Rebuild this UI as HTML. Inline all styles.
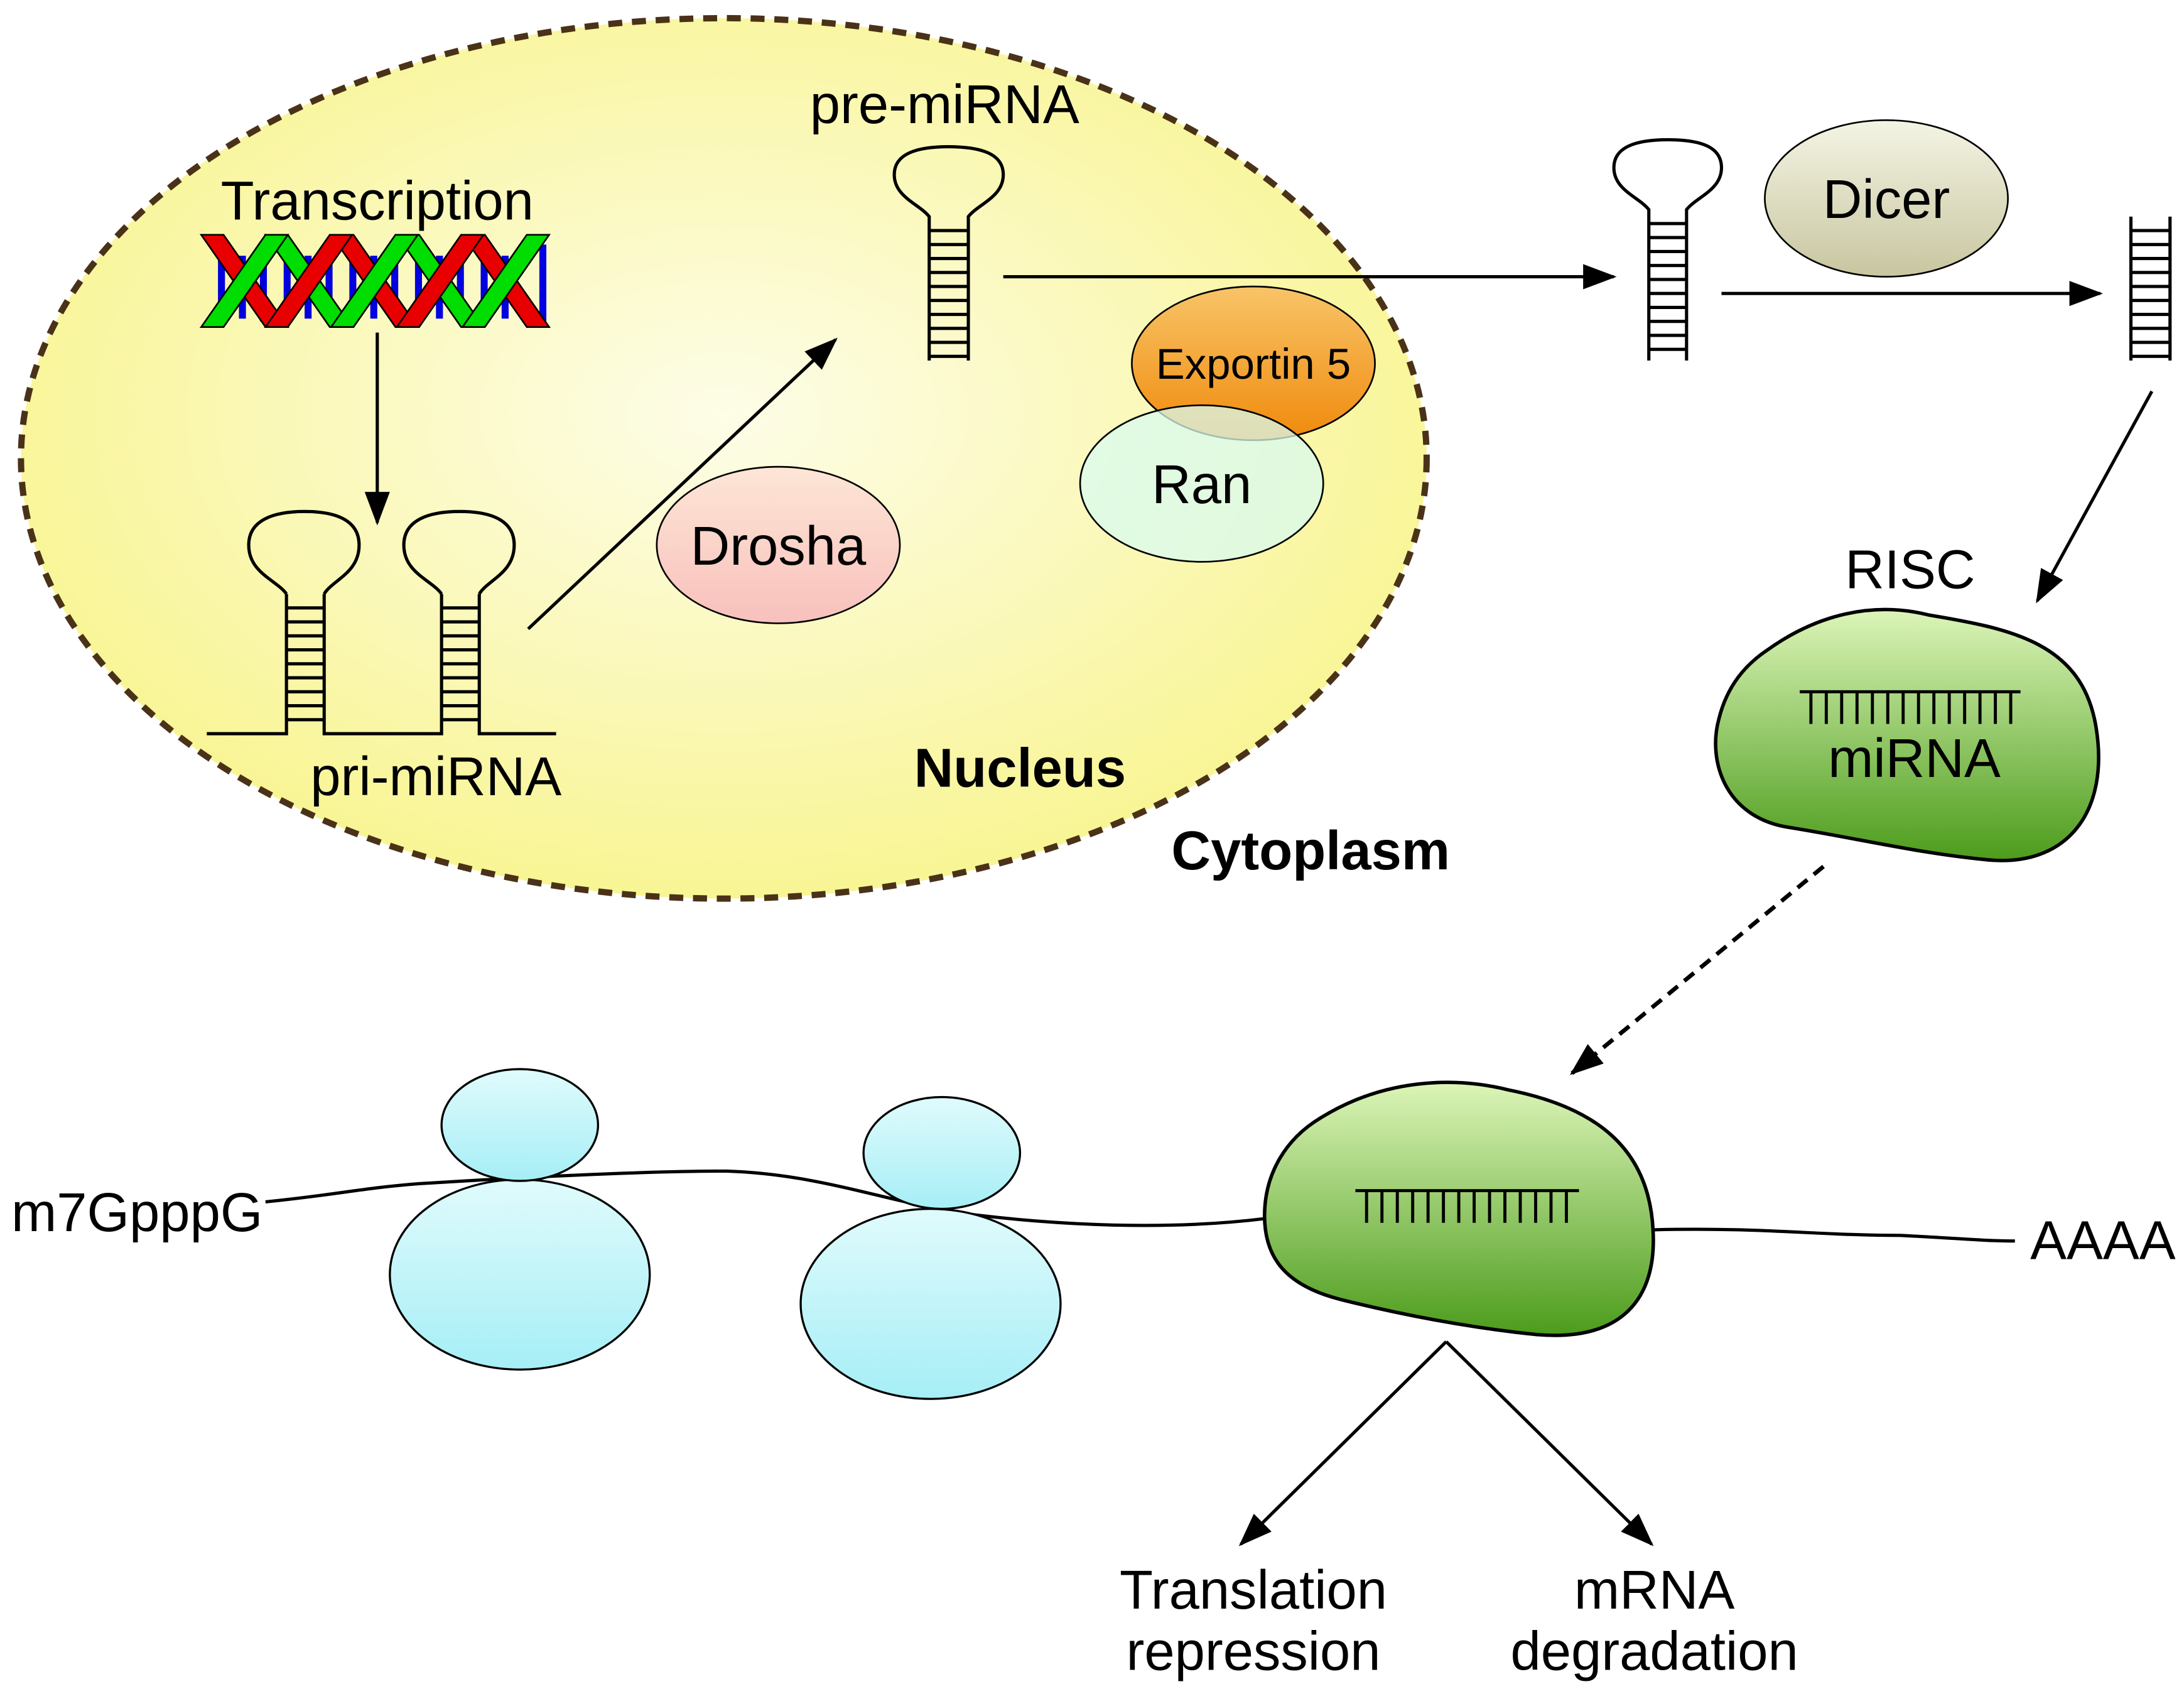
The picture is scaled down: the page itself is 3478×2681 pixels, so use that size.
<!DOCTYPE html>
<html><head><meta charset="utf-8"><style>
html,body{margin:0;padding:0;background:#fff}
svg{display:block}
text{font-family:"Liberation Sans",sans-serif}
</style></head><body>
<svg width="3478" height="2681" viewBox="0 0 1563 1205" preserveAspectRatio="none" xmlns="http://www.w3.org/2000/svg">
<defs>
<radialGradient id="nuc" cx="50%" cy="45%" r="60%"><stop offset="0" stop-color="#fdfde8"/><stop offset="1" stop-color="#f8f48c"/></radialGradient>
<linearGradient id="pink" x1="0" y1="0" x2="0" y2="1"><stop offset="0" stop-color="#fde6d6"/><stop offset="1" stop-color="#f8c0bc"/></linearGradient>
<linearGradient id="orange" x1="0" y1="0" x2="0" y2="1"><stop offset="0" stop-color="#f8c468"/><stop offset="1" stop-color="#f08a0c"/></linearGradient>
<linearGradient id="dicer" x1="0" y1="0" x2="0" y2="1"><stop offset="0" stop-color="#f4f4e4"/><stop offset="1" stop-color="#c8c6a0"/></linearGradient>
<linearGradient id="cyan" x1="0" y1="0" x2="0" y2="1"><stop offset="0" stop-color="#e0fbfc"/><stop offset="1" stop-color="#a6eef6"/></linearGradient>
<linearGradient id="green" x1="0" y1="0" x2="0" y2="1"><stop offset="0" stop-color="#dcf5b8"/><stop offset="1" stop-color="#4c9c1c"/></linearGradient>
<marker id="ah2" markerWidth="24" markerHeight="18" refX="22" refY="9" orient="auto" markerUnits="userSpaceOnUse"><path d="M0,0 L24,9 L0,18 z" fill="#000"/></marker>
</defs>

<ellipse cx="518" cy="328" rx="503" ry="315" fill="url(#nuc)" stroke="#4a3218" stroke-width="4.5" stroke-dasharray="10,7"/>

<text x="270" y="157" font-size="39" text-anchor="middle">Transcription</text>
<g stroke="#000" stroke-width="1.2">
<g fill="#0000e0" stroke="none">
<rect x="156" y="183" width="5" height="45"/><rect x="171" y="183" width="5" height="45"/><rect x="186" y="175" width="5" height="55"/>
<rect x="203" y="183" width="5" height="45"/><rect x="218" y="183" width="5" height="45"/><rect x="233" y="175" width="5" height="55"/>
<rect x="250" y="183" width="5" height="45"/><rect x="265" y="183" width="5" height="45"/><rect x="280" y="175" width="5" height="55"/>
<rect x="297" y="183" width="5" height="45"/><rect x="312" y="183" width="5" height="45"/><rect x="327" y="175" width="5" height="55"/>
<rect x="344" y="183" width="5" height="45"/><rect x="359" y="183" width="5" height="45"/><rect x="386" y="175" width="5" height="55"/>
</g>
<path d="M144,168 L160,168 L206,234 L190,234 Z" fill="#e80000"/>
<path d="M190,168 L206,168 L252,234 L236,234 Z" fill="#00dd00"/>
<path d="M237,168 L253,168 L299,234 L283,234 Z" fill="#e80000"/>
<path d="M284,168 L300,168 L346,234 L330,234 Z" fill="#00dd00"/>
<path d="M331,168 L347,168 L393,234 L377,234 Z" fill="#e80000"/>
<path d="M144,234 L160,234 L206,168 L190,168 Z" fill="#00dd00"/>
<path d="M190,234 L206,234 L252,168 L236,168 Z" fill="#e80000"/>
<path d="M237,234 L253,234 L299,168 L283,168 Z" fill="#00dd00"/>
<path d="M284,234 L300,234 L346,168 L330,168 Z" fill="#e80000"/>
<path d="M331,234 L347,234 L393,168 L377,168 Z" fill="#00dd00"/>
</g>

<g stroke="#000" stroke-width="2.3" fill="none">
<line x1="270" y1="238" x2="270" y2="374" marker-end="url(#ah2)"/>
<line x1="378" y1="450" x2="598" y2="243" marker-end="url(#ah2)"/>
<line x1="718" y1="198" x2="1155" y2="198" marker-end="url(#ah2)"/>
<line x1="1232" y1="210" x2="1503" y2="210" marker-end="url(#ah2)"/>
<line x1="1540" y1="280" x2="1458" y2="430" marker-end="url(#ah2)"/>
<line x1="1305" y1="620" x2="1125" y2="768" stroke-width="3" stroke-dasharray="9,6" marker-end="url(#ah2)"/>
<line x1="1035" y1="960" x2="888" y2="1105" marker-end="url(#ah2)"/>
<line x1="1035" y1="960" x2="1182" y2="1105" marker-end="url(#ah2)"/>
</g>

<g stroke="#000" stroke-width="2.3" fill="none">
<path d="M148,525 L205,525 L205,425 M232,425 L232,525 L316,525 L316,425 M343,425 L343,525 L398,525"/>
<path d="M205,425 C198,415 178,410 178,390 C178,372 196,366 218,366 C240,366 257,372 257,390 C257,410 238,415 232,425"/>
<path d="M316,425 C309,415 289,410 289,390 C289,372 307,366 329,366 C351,366 368,372 368,390 C368,410 349,415 343,425"/>
<path d="M205,435H232M205,445H232M205,455H232M205,465H232M205,475H232M205,485H232M205,495H232M205,505H232M205,515H232"/>
<path d="M316,435H343M316,445H343M316,455H343M316,465H343M316,475H343M316,485H343M316,495H343M316,505H343M316,515H343"/>
<path d="M665,258 L665,155 C658,146 640,141 640,125 C640,110 656,105 679,105 C702,105 718,110 718,125 C718,141 700,146 693,155 L693,258"/>
<path d="M665,165H693M665,175H693M665,185H693M665,195H693M665,205H693M665,215H693M665,225H693M665,235H693M665,245H693M665,255H693"/>
<path d="M1180,258 L1180,150 C1173,141 1155,136 1155,120 C1155,105 1171,100 1194,100 C1217,100 1232,105 1232,120 C1232,136 1214,141 1207,150 L1207,258"/>
<path d="M1180,160H1207M1180,170H1207M1180,180H1207M1180,190H1207M1180,200H1207M1180,210H1207M1180,220H1207M1180,230H1207M1180,240H1207M1180,250H1207"/>
<path d="M1525,155V258M1553,155V258M1525,165H1553M1525,175H1553M1525,185H1553M1525,195H1553M1525,205H1553M1525,215H1553M1525,225H1553M1525,235H1553M1525,245H1553M1525,255H1553"/>
</g>
<text x="312" y="569" font-size="39" text-anchor="middle">pri-miRNA</text>
<text x="676" y="88" font-size="39" text-anchor="middle">pre-miRNA</text>

<ellipse cx="557" cy="390" rx="87" ry="56" fill="url(#pink)" stroke="#000" stroke-width="1.2"/>
<text x="557" y="404" font-size="39" text-anchor="middle">Drosha</text>
<ellipse cx="897" cy="260" rx="87" ry="55" fill="url(#orange)" stroke="#000" stroke-width="1.2"/>
<text x="897" y="271" font-size="31" text-anchor="middle">Exportin 5</text>
<ellipse cx="860" cy="346" rx="87" ry="56" fill="#d8fbf0" fill-opacity="0.75" stroke="#000" stroke-width="1.2"/>
<text x="860" y="360" font-size="39" text-anchor="middle">Ran</text>
<text x="730" y="563" font-size="39" font-weight="bold" text-anchor="middle">Nucleus</text>
<text x="938" y="622" font-size="39" font-weight="bold" text-anchor="middle">Cytoplasm</text>

<ellipse cx="1350" cy="142" rx="87" ry="56" fill="url(#dicer)" stroke="#000" stroke-width="1.2"/>
<text x="1350" y="156" font-size="39" text-anchor="middle">Dicer</text>

<text x="1367" y="421" font-size="39" text-anchor="middle">RISC</text>
<path d="M1265,465 C1300,440 1340,430 1380,440 C1440,450 1490,460 1500,520 C1510,580 1480,622 1420,615 C1370,610 1330,600 1280,592 C1235,585 1222,545 1230,515 C1236,490 1250,475 1265,465 Z" fill="url(#green)" stroke="#000" stroke-width="2.5"/>
<g stroke="#000" stroke-width="2.2"><path d="M1288,495H1446M1296,495V518M1307,495V518M1318,495V518M1329,495V518M1340,495V518M1351,495V518M1362,495V518M1373,495V518M1384,495V518M1395,495V518M1406,495V518M1417,495V518M1428,495V518M1439,495V518"/></g>
<text x="1370" y="556" font-size="39" text-anchor="middle">miRNA</text>

<path d="M190,860 C240,855 260,850 300,847 C380,842 460,838 520,838 C580,840 620,855 680,867 C760,878 840,880 905,872 M1183,880 C1260,878 1300,884 1360,884 C1400,886 1420,888 1442,888" fill="none" stroke="#000" stroke-width="2.3"/>
<text x="188" y="881" font-size="39" text-anchor="end">m7GpppG</text>
<text x="1505" y="901" font-size="39" text-anchor="middle">AAAA</text>

<g fill="url(#cyan)" stroke="#000" stroke-width="1.5">
<ellipse cx="372" cy="912" rx="93" ry="68"/>
<ellipse cx="372" cy="805" rx="56" ry="40"/>
<ellipse cx="666" cy="933" rx="93" ry="68"/>
<ellipse cx="674" cy="825" rx="56" ry="40"/>
</g>

<path d="M945,800 C990,772 1040,770 1080,780 C1140,792 1180,820 1183,880 C1186,930 1160,960 1100,955 C1050,950 1000,940 960,930 C920,920 905,900 905,870 C905,840 920,815 945,800 Z" fill="url(#green)" stroke="#000" stroke-width="2.5"/>
<g stroke="#000" stroke-width="2.2"><path d="M970,852H1130M978,852V875M989,852V875M1000,852V875M1011,852V875M1022,852V875M1033,852V875M1044,852V875M1055,852V875M1066,852V875M1077,852V875M1088,852V875M1099,852V875M1110,852V875M1121,852V875"/></g>

<text x="897" y="1151" font-size="39" text-anchor="middle">Translation</text>
<text x="897" y="1195" font-size="39" text-anchor="middle">repression</text>
<text x="1184" y="1151" font-size="39" text-anchor="middle">mRNA</text>
<text x="1184" y="1195" font-size="39" text-anchor="middle">degradation</text>
</svg>
</body></html>
